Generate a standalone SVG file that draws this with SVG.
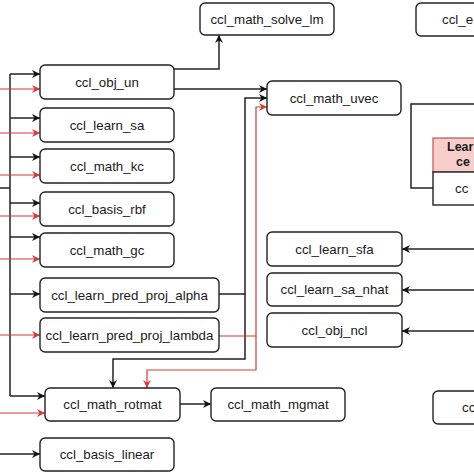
<svg xmlns="http://www.w3.org/2000/svg" width="474" height="474" viewBox="0 0 474 474">
<defs>
<style>
.n{fill:#fff;stroke:#222;stroke-width:1.4}
.t{font-family:"Liberation Sans",Arial,sans-serif;font-size:13.3px;fill:#1a1a1a;text-anchor:middle}
.ts{font-family:"Liberation Sans",Arial,sans-serif;font-size:13.3px;fill:#1a1a1a}
.tb{font-family:"Liberation Sans",Arial,sans-serif;font-size:12.5px;font-weight:bold;fill:#1a1a1a}
.k{fill:none;stroke:#222;stroke-width:1.5}
.r{fill:none;stroke:#d23c3c;stroke-width:1.2}
</style>
<marker id="ak" viewBox="0 0 10 10" refX="10" refY="5" markerWidth="8" markerHeight="8" markerUnits="userSpaceOnUse" orient="auto"><path d="M0,0 L10,5 L0,10 L3,5 Z" fill="#111"/></marker>
<marker id="ar" viewBox="0 0 10 10" refX="10" refY="5" markerWidth="8" markerHeight="8" markerUnits="userSpaceOnUse" orient="auto"><path d="M0,0 L10,5 L0,10 L3,5 Z" fill="#d23c3c"/></marker>
</defs>
<rect width="474" height="474" fill="#fff"/>
<g id="connectors">
<path class="k" d="M10,188 H0"/>
<path class="k" d="M10,74 V396"/>
<path class="k" d="M10,74 H40" marker-end="url(#ak)"/>
<path class="k" d="M10,118 H40" marker-end="url(#ak)"/>
<path class="k" d="M10,157 H40" marker-end="url(#ak)"/>
<path class="k" d="M10,203 H40" marker-end="url(#ak)"/>
<path class="k" d="M10,237 H40" marker-end="url(#ak)"/>
<path class="k" d="M10,294 H40" marker-end="url(#ak)"/>
<path class="k" d="M10,396 H45" marker-end="url(#ak)"/>
<path class="k" d="M0,454 H40" marker-end="url(#ak)"/>
<path class="r" d="M0,89 H40" marker-end="url(#ar)"/>
<path class="r" d="M0,133 H40" marker-end="url(#ar)"/>
<path class="r" d="M0,175 H40" marker-end="url(#ar)"/>
<path class="r" d="M0,216 H40" marker-end="url(#ar)"/>
<path class="r" d="M0,259 H40" marker-end="url(#ar)"/>
<path class="r" d="M0,335 H40" marker-end="url(#ar)"/>
<path class="r" d="M0,413 H45" marker-end="url(#ar)"/>
<path class="k" d="M174,69 H219 V35" marker-end="url(#ak)"/>
<path class="k" d="M174,89 H267" marker-end="url(#ak)"/>
<path class="k" d="M219,294 H245 V98 H267" marker-end="url(#ak)"/>
<path class="k" d="M245,294 V359 H113 V388" marker-end="url(#ak)"/>
<path class="r" d="M219,336 H256 V107 H267" marker-end="url(#ar)"/>
<path class="r" d="M256,336 V370 H147 V388" marker-end="url(#ar)"/>
<path class="k" d="M180,404 H211" marker-end="url(#ak)"/>
<path class="k" d="M474,249 H402" marker-end="url(#ak)"/>
<path class="k" d="M474,290 H402" marker-end="url(#ak)"/>
<path class="k" d="M474,331 H402" marker-end="url(#ak)"/>
<path class="k" d="M474,104 H411 V188 H433"/>
</g>
<g id="ccl_math_solve_lm"><rect class="n" x="200" y="3" width="134" height="32" rx="5"/><text class="t" x="267" y="23.7">ccl_math_solve_lm</text></g>
<g id="ccl_obj_un"><rect class="n" x="40" y="65" width="134" height="34" rx="5"/><text class="t" x="107" y="86.7">ccl_obj_un</text></g>
<g id="ccl_learn_sa"><rect class="n" x="40" y="108" width="134" height="34" rx="5"/><text class="t" x="107" y="129.7">ccl_learn_sa</text></g>
<g id="ccl_math_kc"><rect class="n" x="40" y="149" width="134" height="34" rx="5"/><text class="t" x="107" y="170.7">ccl_math_kc</text></g>
<g id="ccl_basis_rbf"><rect class="n" x="40" y="192" width="134" height="34" rx="5"/><text class="t" x="107" y="213.7">ccl_basis_rbf</text></g>
<g id="ccl_math_gc"><rect class="n" x="40" y="233" width="134" height="34" rx="5"/><text class="t" x="107" y="254.7">ccl_math_gc</text></g>
<g id="ccl_learn_pred_proj_alpha"><rect class="n" x="40" y="278" width="179" height="34" rx="5"/><text class="t" x="129.5" y="299.7">ccl_learn_pred_proj_alpha</text></g>
<g id="ccl_learn_pred_proj_lambda"><rect class="n" x="40" y="318" width="179" height="34" rx="5"/><text class="t" x="129.5" y="339.7">ccl_learn_pred_proj_lambda</text></g>
<g id="ccl_math_rotmat"><rect class="n" x="45" y="388" width="135" height="33" rx="5"/><text class="t" x="112.5" y="409.2">ccl_math_rotmat</text></g>
<g id="ccl_basis_linear"><rect class="n" x="40" y="438" width="134" height="33" rx="5"/><text class="t" x="107" y="459.2">ccl_basis_linear</text></g>
<g id="ccl_math_mgmat"><rect class="n" x="211" y="388" width="134" height="33" rx="5"/><text class="t" x="278" y="409.2">ccl_math_mgmat</text></g>
<g id="ccl_math_uvec"><rect class="n" x="267" y="81" width="134" height="34" rx="5"/><text class="t" x="334" y="102.7">ccl_math_uvec</text></g>
<g id="ccl_learn_sfa"><rect class="n" x="267" y="232" width="135" height="34" rx="5"/><text class="t" x="334.5" y="253.7">ccl_learn_sfa</text></g>
<g id="ccl_learn_sa_nhat"><rect class="n" x="267" y="273" width="135" height="33" rx="5"/><text class="t" x="334.5" y="294.2">ccl_learn_sa_nhat</text></g>
<g id="ccl_obj_ncl"><rect class="n" x="267" y="313" width="135" height="34" rx="5"/><text class="t" x="334.5" y="334.7">ccl_obj_ncl</text></g>
<g id="ccl_e_node"><rect class="n" x="416" y="3" width="100" height="33" rx="5"/><text class="ts" x="442" y="24.2">ccl_e</text></g>
<g id="table_node">
<rect x="433" y="138" width="80" height="34" fill="#f8cecc" stroke="#b85450" stroke-width="1.2"/>
<rect x="433" y="172" width="80" height="33" fill="#fff" stroke="#222" stroke-width="1.4"/>
<text class="tb" x="447" y="151">Lear</text>
<text class="tb" x="456" y="166">ce</text>
<text class="ts" x="455" y="193">cc</text>
</g>
<g id="cc_node"><rect class="n" x="433" y="391" width="100" height="33" rx="5"/><text class="ts" x="462" y="412.2">cc</text></g>
</svg>
